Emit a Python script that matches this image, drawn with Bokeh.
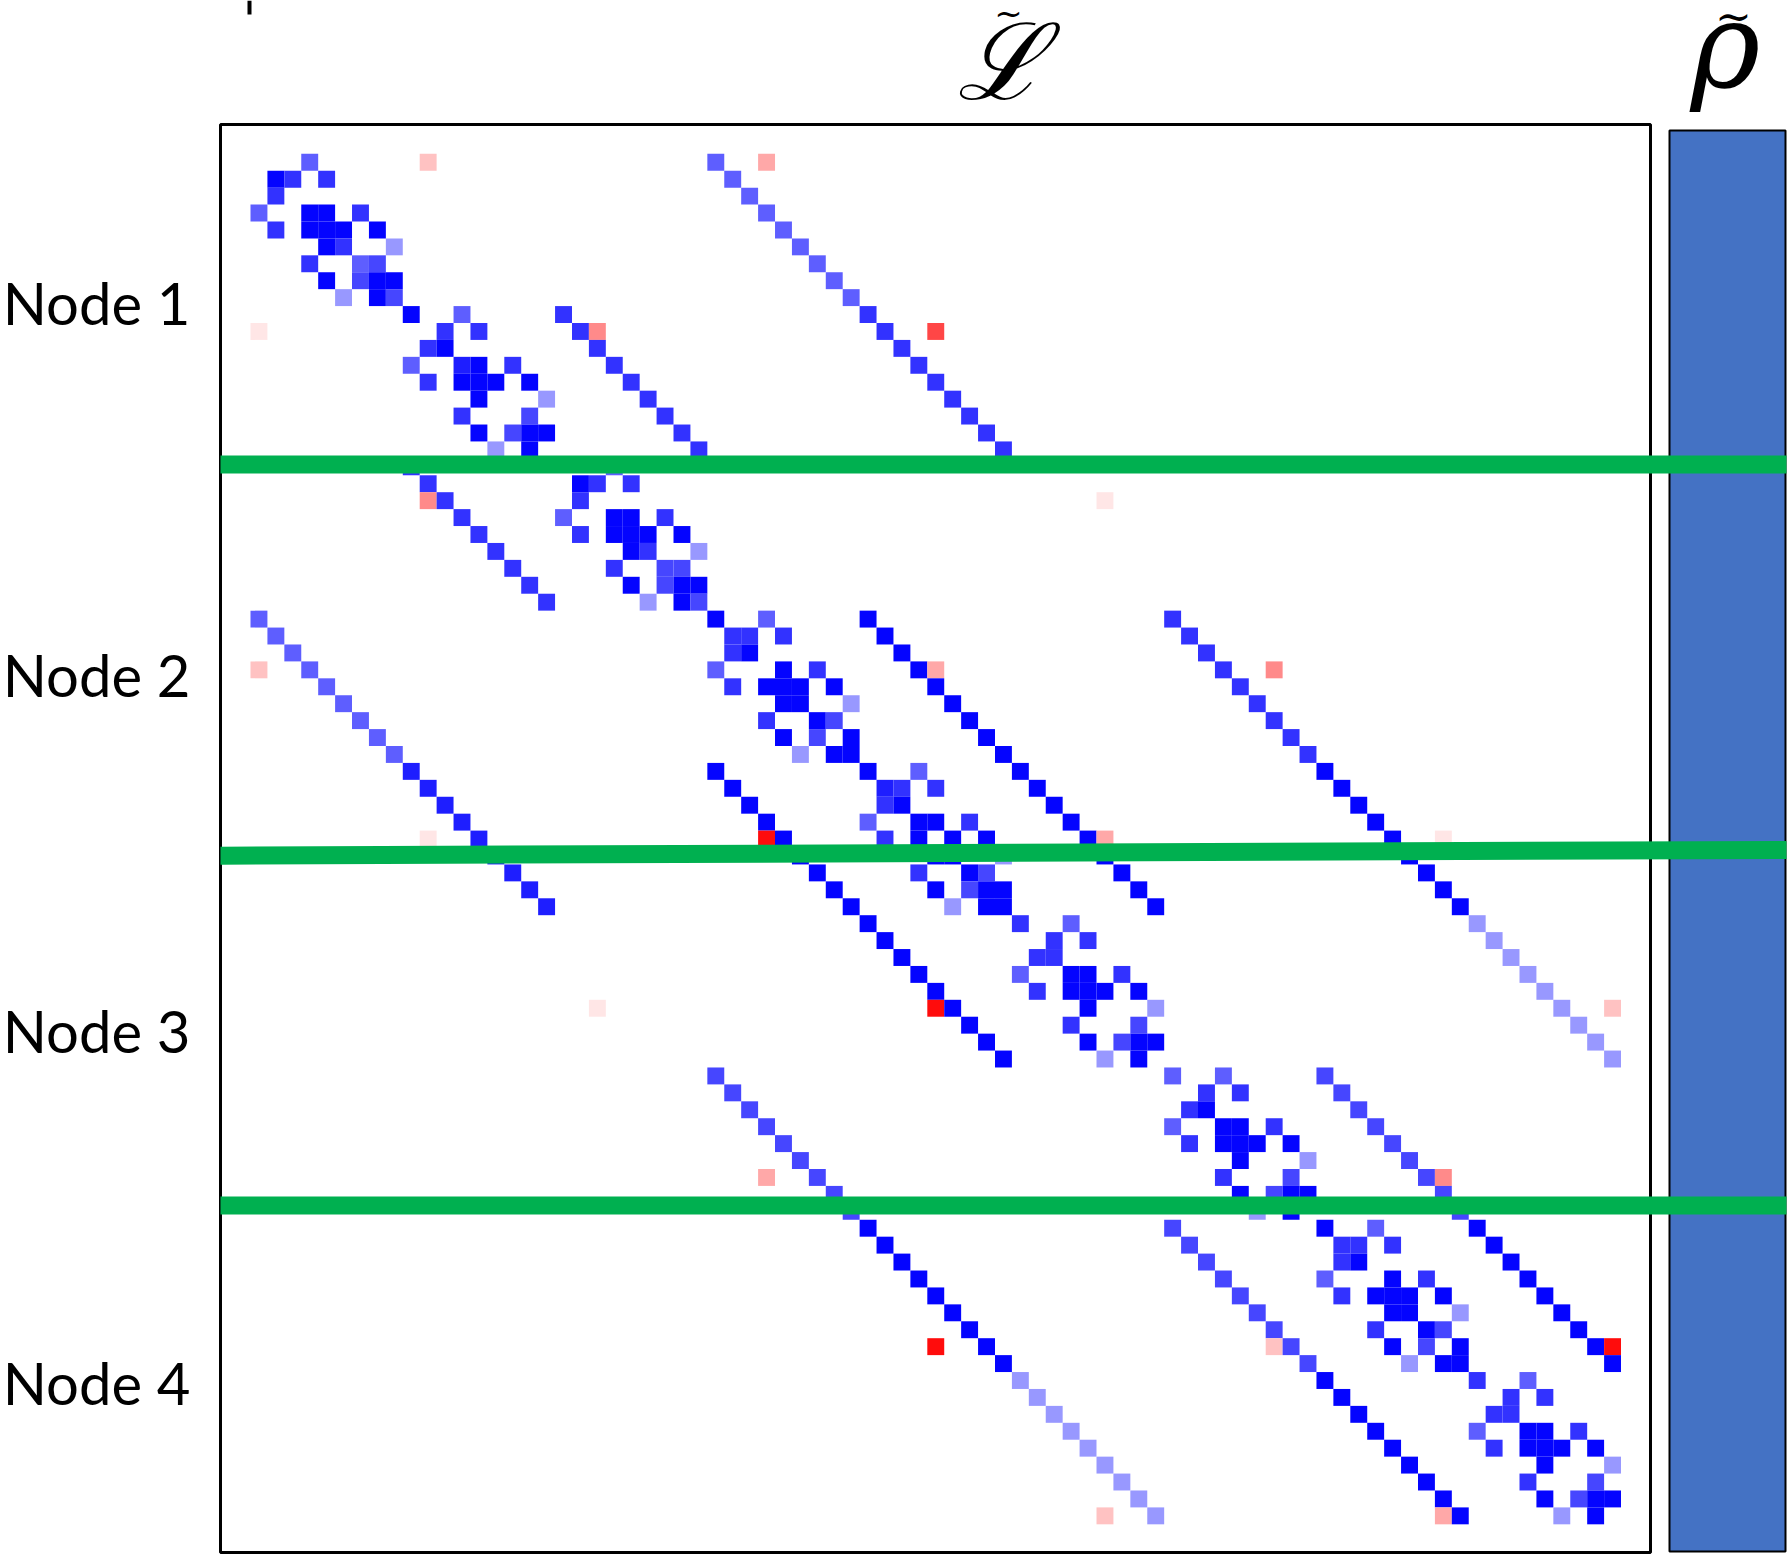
from bokeh.plotting import figure
from bokeh.models import Range1d, LinearColorMapper, ColumnDataSource, Label
from bokeh.embed import file_html
from bokeh.resources import INLINE
from bokeh.core.properties import value

# ---------------- data ----------------
# colour level codes -> signed matrix value (blue < 0 < red)
LEVELS = {"L": -0.40, "M": -0.63, "N": -0.72, "K": -0.80, "J": -0.88, "D": -0.98,
          "q": 0.10, "p": 0.24, "t": 0.34, "s": 0.46, "u": 0.72, "r": 0.95}

# one string per matrix row (81 rows): "column:level"
MATRIX_ROWS = [
    "3:M 10:p 27:M 30:t",
    "1:D 2:K 4:K 28:M",
    "1:K 29:M",
    "0:M 3:D 4:D 6:K 30:M",
    "1:K 3:D 4:D 5:D 7:D 31:M",
    "4:D 5:K 8:L 32:M",
    "3:K 6:M 7:N 33:M",
    "4:D 6:N 7:D 8:D 34:M",
    "5:L 7:D 8:N 35:M",
    "9:D 12:M 18:K 36:K",
    "0:q 11:K 13:K 19:K 20:s 37:K 40:u",
    "10:K 11:D 20:K 38:K",
    "9:M 12:J 13:D 15:K 21:K 39:K",
    "10:K 12:D 13:D 14:D 16:D 22:K 40:K",
    "13:D 17:L 23:K 41:K",
    "12:K 16:N 24:K 42:K",
    "13:D 15:N 16:D 17:D 25:K 43:K",
    "14:L 16:D 26:K 44:K",
    "9:K 21:M",
    "10:K 19:D 20:K 22:K",
    "10:s 11:K 19:K 50:q",
    "12:K 18:M 21:D 22:D 24:K",
    "13:K 19:K 21:D 22:D 23:D 25:D",
    "14:K 22:D 23:K 26:L",
    "15:K 21:K 24:N 25:N",
    "16:K 22:D 24:N 25:D 26:D",
    "17:K 23:L 25:D 26:N",
    "0:M 27:D 30:M 36:D 54:K",
    "1:M 28:K 29:K 31:K 37:D 55:K",
    "2:M 28:K 29:D 38:D 56:K",
    "0:p 3:M 27:M 31:D 33:K 39:D 40:t 57:K 60:s",
    "4:M 28:K 30:D 31:D 32:D 34:D 40:D 58:K",
    "5:M 31:D 32:D 35:L 41:D 59:K",
    "6:M 30:K 33:D 34:N 42:D 60:K",
    "7:M 31:D 33:N 35:D 43:D 61:K",
    "8:M 32:L 34:D 35:D 44:D 62:K",
    "9:J 27:D 36:D 39:M 45:D 63:D",
    "10:J 28:D 37:J 38:K 40:K 46:D 64:D",
    "11:J 29:D 37:K 38:D 47:D 65:D",
    "12:J 30:D 36:M 39:D 40:D 42:K 48:D 66:D",
    "10:q 13:J 30:r 31:D 37:K 39:D 41:D 43:D 49:D 50:t 67:D 70:q",
    "14:J 32:D 40:D 41:D 44:L 50:D 68:D",
    "15:J 33:D 39:K 42:D 43:N 51:D 69:D",
    "16:J 34:D 40:D 42:N 43:D 44:D 52:D 70:D",
    "17:J 35:D 41:L 43:D 44:D 53:D 71:D",
    "36:D 45:K 48:M 72:L",
    "37:D 47:K 49:K 73:L",
    "38:D 46:K 47:K 74:L",
    "39:D 45:M 48:D 49:D 51:K 75:L",
    "40:D 46:K 48:D 49:D 50:D 52:D 76:L",
    "20:q 40:r 41:D 49:D 53:L 77:L 80:p",
    "42:D 48:K 52:N 78:L",
    "43:D 49:D 51:N 52:D 53:D 79:L",
    "44:D 50:L 52:D 80:L",
    "27:N 54:M 57:M 63:N",
    "28:N 56:K 58:K 64:N",
    "29:N 55:K 56:D 65:N",
    "30:N 54:M 57:D 58:D 60:K 66:N",
    "31:N 55:K 57:D 58:D 59:D 61:D 67:N",
    "32:N 58:D 62:L 68:N",
    "30:t 33:N 57:K 61:N 69:N 70:s",
    "34:N 58:D 60:N 61:D 62:D 70:N",
    "35:N 59:L 61:D 71:N",
    "36:D 54:N 63:D 66:M 72:D",
    "37:D 55:N 64:K 65:K 67:K 73:D",
    "38:D 56:N 64:K 65:D 74:D",
    "39:D 57:N 63:M 67:D 69:K 75:D",
    "40:D 58:N 64:K 66:D 67:D 68:D 70:D 76:D",
    "41:D 59:N 67:D 68:D 71:L 77:D",
    "42:D 60:N 66:K 69:D 70:N 78:D",
    "40:r 43:D 60:p 61:N 67:D 69:N 71:D 79:D 80:r",
    "44:D 62:N 68:L 70:D 71:D 80:D",
    "45:L 63:D 72:K 75:M",
    "46:L 64:D 74:K 76:K",
    "47:L 65:D 73:K 74:K",
    "48:L 66:D 72:M 75:D 76:D 78:K",
    "49:L 67:D 73:K 75:D 76:D 77:D 79:D",
    "50:L 68:D 76:D 80:L",
    "51:L 69:D 75:K 79:N",
    "52:L 70:D 76:D 78:N 79:D 80:D",
    "50:p 53:L 70:t 71:D 77:L 79:D",
]

NODE_LABELS = ["Node 1", "Node 2", "Node 3", "Node 4"]
NODE_LABEL_ROWS = [8.8, 30.8, 51.8, 72.6]           # vertical centre of each label (row units)
SEPARATOR_LEFT = [18.36, 41.48, 62.16]              # green separators, row position at left end
SEPARATOR_RIGHT = [18.36, 41.14, 62.16]             # ... and at right end

# ---------------- geometry (pixels -> cell units) ----------------
W, H = 1792, 1557
CELL = 16.92
X0_PX, Y0_PX = 250.0, 153.3     # canvas position of the matrix origin

def cx(px):
    return (px - X0_PX) / CELL

def cy(py):
    return (py - Y0_PX) / CELL

rows, cols, vals = [], [], []
for r, line in enumerate(MATRIX_ROWS):
    for item in line.split():
        c, code = item.split(":")
        rows.append(r + 0.5)
        cols.append(int(c) + 0.5)
        vals.append(LEVELS[code])

src = ColumnDataSource(dict(x=cols, y=rows, v=vals))

# blue-white-red palette
palette = []
for k in range(256):
    t = k / 255 * 2 - 1
    if t < 0:
        g = int(round(255 * (1 + t)))
        palette.append("#%02x%02xff" % (g, g))
    else:
        g = int(round(255 * (1 - t)))
        palette.append("#ff%02x%02x" % (g, g))
mapper = LinearColorMapper(palette=palette, low=-1, high=1)

p = figure(width=W, height=H,
           x_range=Range1d(cx(0), cx(W)),
           y_range=Range1d(cy(H), cy(0)),
           x_axis_location=None, y_axis_location=None,
           output_backend="svg", toolbar_location=None,
           min_border=0, min_border_left=0, min_border_right=0,
           min_border_top=0, min_border_bottom=0)
p.grid.visible = False
p.outline_line_color = None
p.background_fill_color = "white"
p.border_fill_color = "white"

# small cut-off mark at the top-left of the original panel
p.segment(x0=[cx(249)], x1=[cx(249)], y0=[cy(0)], y1=[cy(14)],
          line_color="black", line_width=4)

# matrix frame
p.quad(left=cx(220), right=cx(1650), top=cy(124), bottom=cy(1552),
       fill_color=None, line_color="black", line_width=3)

# matrix entries
p.rect(x="x", y="y", width=1, height=1, source=src,
       fill_color={"field": "v", "transform": mapper}, line_color=None)

# rho vector bar
p.quad(left=cx(1669), right=cx(1785), top=cy(130), bottom=cy(1551),
       fill_color="#4472c4", line_color="black", line_width=2)

# green node separators
p.segment(x0=[cx(220)] * 3, x1=[cx(1786)] * 3, y0=SEPARATOR_LEFT, y1=SEPARATOR_RIGHT,
          line_color="#00b050", line_width=18)

# node labels
p.text(x=[cx(190)] * 4, y=NODE_LABEL_ROWS, text=NODE_LABELS,
       text_font=value("Lato"), text_font_size="58px", text_color="black",
       text_align="right", text_baseline="middle")

# headers: L-tilde and rho-tilde
p.add_layout(Label(x=cx(1000), y=cy(62), text="\u2112", text_align="center",
                   text_baseline="alphabetic", text_font="DejaVu Serif",
                   text_font_size="106px", text_font_style="italic", text_color="black"))
p.add_layout(Label(x=cx(1008), y=cy(12), text="~", text_align="center",
                   text_baseline="middle", text_font="DejaVu Serif",
                   text_font_size="34px", text_color="black"))
p.add_layout(Label(x=cx(1725), y=cy(45), text="\u03c1", text_align="center",
                   text_baseline="alphabetic", text_font="DejaVu Serif",
                   text_font_size="119px", text_font_style="italic", text_color="black"))
p.add_layout(Label(x=cx(1733), y=cy(16), text="~", text_align="center",
                   text_baseline="middle", text_font="DejaVu Serif",
                   text_font_size="44px", text_color="black"))

open("out.html", "w").write(file_html(p, INLINE))
